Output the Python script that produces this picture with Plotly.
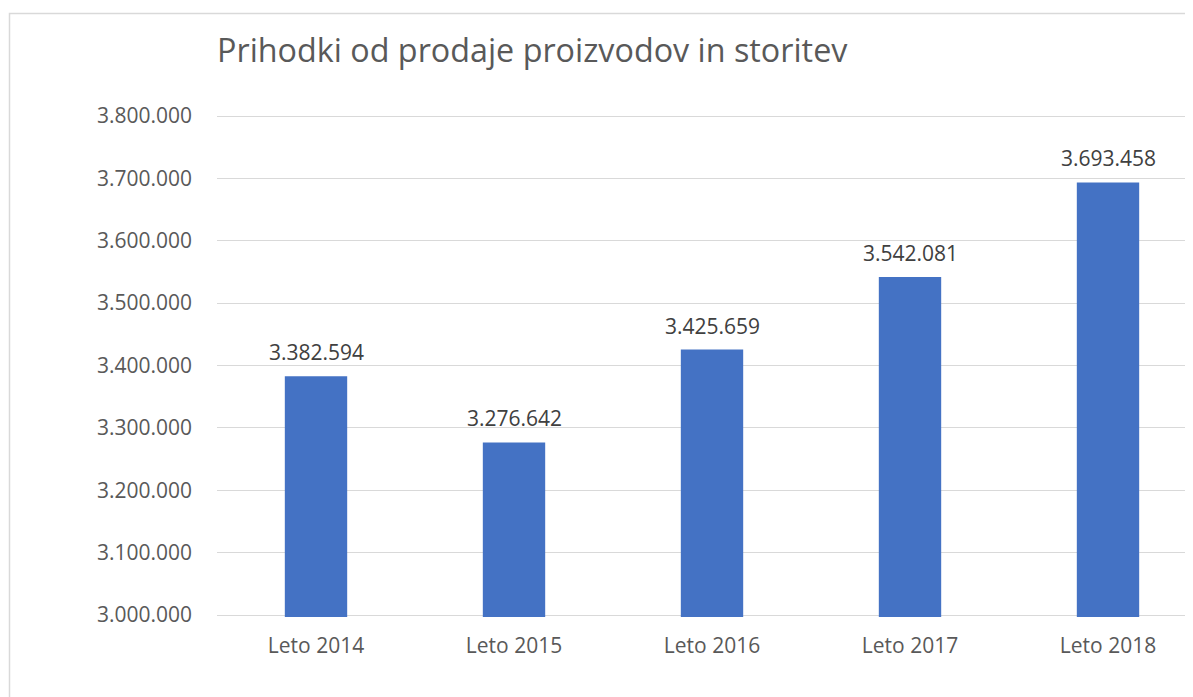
import plotly.graph_objects as go

categories = ["Leto 2014", "Leto 2015", "Leto 2016", "Leto 2017", "Leto 2018"]
values = [3382594, 3276642, 3425659, 3542081, 3693458]
title_text = "Prihodki od prodaje proizvodov in storitev"
y_ticks = [3000000, 3100000, 3200000, 3300000, 3400000, 3500000, 3600000, 3700000, 3800000]

# page has 8px body margin; figure sized to fit in window
OFF = 8
W, H = 1193 - OFF, 697 - OFF
PAD = 2  # px of padding so edge gridlines are drawn
L = 217 - OFF
T = 116 - OFF - PAD
B = H - (615 - OFF + PAD)
FONT = "Open Sans"

def fmt(v):
    return f"{v:,}".replace(",", ".")

fig = go.Figure()
fig.add_trace(go.Bar(
    x=list(range(len(categories))), y=values,
    marker=dict(color="#4472C4", line=dict(width=0)),
    width=0.315, hoverinfo="skip",
))

for i, v in enumerate(values):
    fig.add_annotation(x=i, y=v, text=fmt(v), showarrow=False,
                       yanchor="middle", yshift=24,
                       font=dict(family=FONT, size=21, color="#404040"))

plot_w = W - L
plot_h = H - T - B
units_per_px = (y_ticks[-1] - y_ticks[0]) / (615 - 116)
# chart border (outer frame)
fig.add_shape(type="rect", xref="paper", yref="paper",
              x0=(9.5 - OFF - L) / plot_w, x1=1.2,
              y0=-0.4, y1=(H - B - (13.5 - OFF)) / plot_h,
              line=dict(color="#D9D9D9", width=1.5), fillcolor="rgba(0,0,0,0)",
              layer="below")

fig.update_layout(
    width=W, height=H,
    margin=dict(l=L, r=0, t=T, b=B, autoexpand=False),
    paper_bgcolor="white", plot_bgcolor="white",
    separators=",.",
    showlegend=False,
    title=dict(text=title_text, xref="container", yref="container",
               x=L / W, xanchor="left", y=1 - 31 / H, yanchor="top",
               font=dict(family=FONT, size=32.3, color="#595959")),
    xaxis=dict(
        range=[-0.5, -0.5 + plot_w / 198.0],
        tickmode="array", tickvals=list(range(len(categories))), ticktext=categories,
        showgrid=False, zeroline=False, showline=False, ticks="",
        ticklabelstandoff=16 - PAD,
        tickfont=dict(family=FONT, size=21, color="#595959"),
    ),
    yaxis=dict(
        range=[y_ticks[0] - PAD * units_per_px, y_ticks[-1] + PAD * units_per_px],
        tickmode="array", tickvals=y_ticks, ticktext=[fmt(t) for t in y_ticks],
        showgrid=True, gridcolor="#D9D9D9", gridwidth=1.3,
        zeroline=False, showline=False, ticks="",
        ticklabelstandoff=24,
        tickfont=dict(family=FONT, size=21, color="#595959"),
    ),
)

fig.write_html("out.html")
